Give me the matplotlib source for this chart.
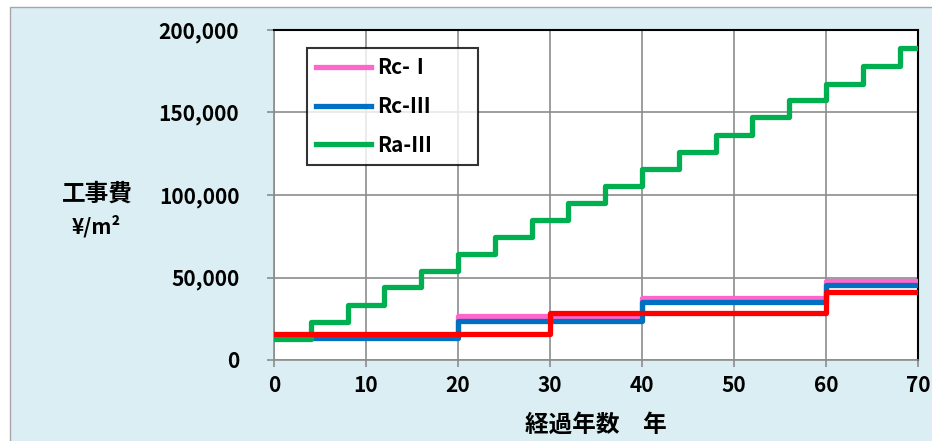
import matplotlib.pyplot as plt
from matplotlib.patches import Rectangle
from matplotlib.ticker import FuncFormatter

plt.rcParams['font.family'] = ['Noto Sans CJK JP', 'DejaVu Sans']

# step data (value holds from each year until the next)
years_rc = [0, 20, 40, 60, 70]
rc1 = [14000, 26700, 37800, 48000, 48000]
rc3 = [13500, 23800, 35200, 45500, 45500]

years_ra = [0, 4, 8, 12, 16, 20, 24, 28, 32, 36, 40, 44, 48, 52, 56, 60, 64, 68, 70]
ra3 = [13000, 22800, 33300, 44000, 54000, 64000, 74500, 85000, 95000, 105500,
       116000, 126000, 136500, 147000, 157500, 167500, 178000, 188800, 188800]

years_red = [0, 30, 60, 70]
red = [16000, 28300, 41200, 41200]

fig = plt.figure(figsize=(9.32, 4.41), dpi=100)
fig.patch.set_facecolor('white')
bg = Rectangle((10 / 932, -0.01), 1.0, (441 - 7) / 441 + 0.01, transform=fig.transFigure,
               facecolor='#DAEEF3', edgecolor='#A6A6A6', linewidth=1, zorder=-5)
fig.patches.append(bg)

ax = fig.add_axes([274 / 932, 81 / 441, (918 - 274) / 932, (411 - 81) / 441])
ax.set_facecolor('white')

lw = 3.8
ax.step(years_rc, rc1, where='post', color='#FF66CC', lw=lw, label='Rc-Ⅰ', zorder=3)
ax.step(years_rc, rc3, where='post', color='#0070C0', lw=lw, label='Rc-Ⅲ', zorder=4)
ax.step(years_ra, ra3, where='post', color='#00B050', lw=lw, label='Ra-Ⅲ', zorder=5)
ax.step(years_red, red, where='post', color='#FF0000', lw=lw, zorder=6)

ax.set_xlim(0, 70)
ax.set_ylim(0, 200000)
ax.set_xticks(range(0, 71, 10))
ax.set_yticks(range(0, 200001, 50000))
ax.yaxis.set_major_formatter(FuncFormatter(lambda v, p: f'{int(v):,}'))
ax.grid(True, color='#8C8C8C', lw=1.2)
ax.set_axisbelow(True)

for s in ['top', 'right']:
    ax.spines[s].set_color('black')
    ax.spines[s].set_linewidth(1.5)
for s in ['left', 'bottom']:
    ax.spines[s].set_color('#8C8C8C')
    ax.spines[s].set_linewidth(1.2)
ax.tick_params(axis='both', length=5, color='#8C8C8C', width=1.2, labelsize=15)
ax.tick_params(axis='x', pad=6)
ax.tick_params(axis='y', pad=20)
for t in ax.get_xticklabels() + ax.get_yticklabels():
    t.set_fontweight('bold')

fig.text(97 / 932, 1 - 194 / 441, '工事費', fontsize=17, fontweight='bold', ha='center', va='center')
fig.text(96 / 932, 1 - 226 / 441, '¥/m²', fontsize=15, fontweight='bold', ha='center', va='center')
fig.text(596 / 932, 1 - 425 / 441, '経過年数\u3000年', fontsize=17, fontweight='bold', ha='center', va='center')

leg = ax.legend(loc='upper left',
                bbox_to_anchor=((307 - 274) / 644, (360 - 163) / 330, 171 / 644, 115 / 330),
                mode='expand', frameon=True, fancybox=False, edgecolor='black',
                prop={'weight': 'bold', 'size': 15},
                handlelength=2.6, labelspacing=0.85, borderpad=0.45, handletextpad=0.3,
                borderaxespad=0)
leg.get_frame().set_linewidth(1.5)
leg.set_zorder(10)

fig.savefig('out.png', dpi=100)
